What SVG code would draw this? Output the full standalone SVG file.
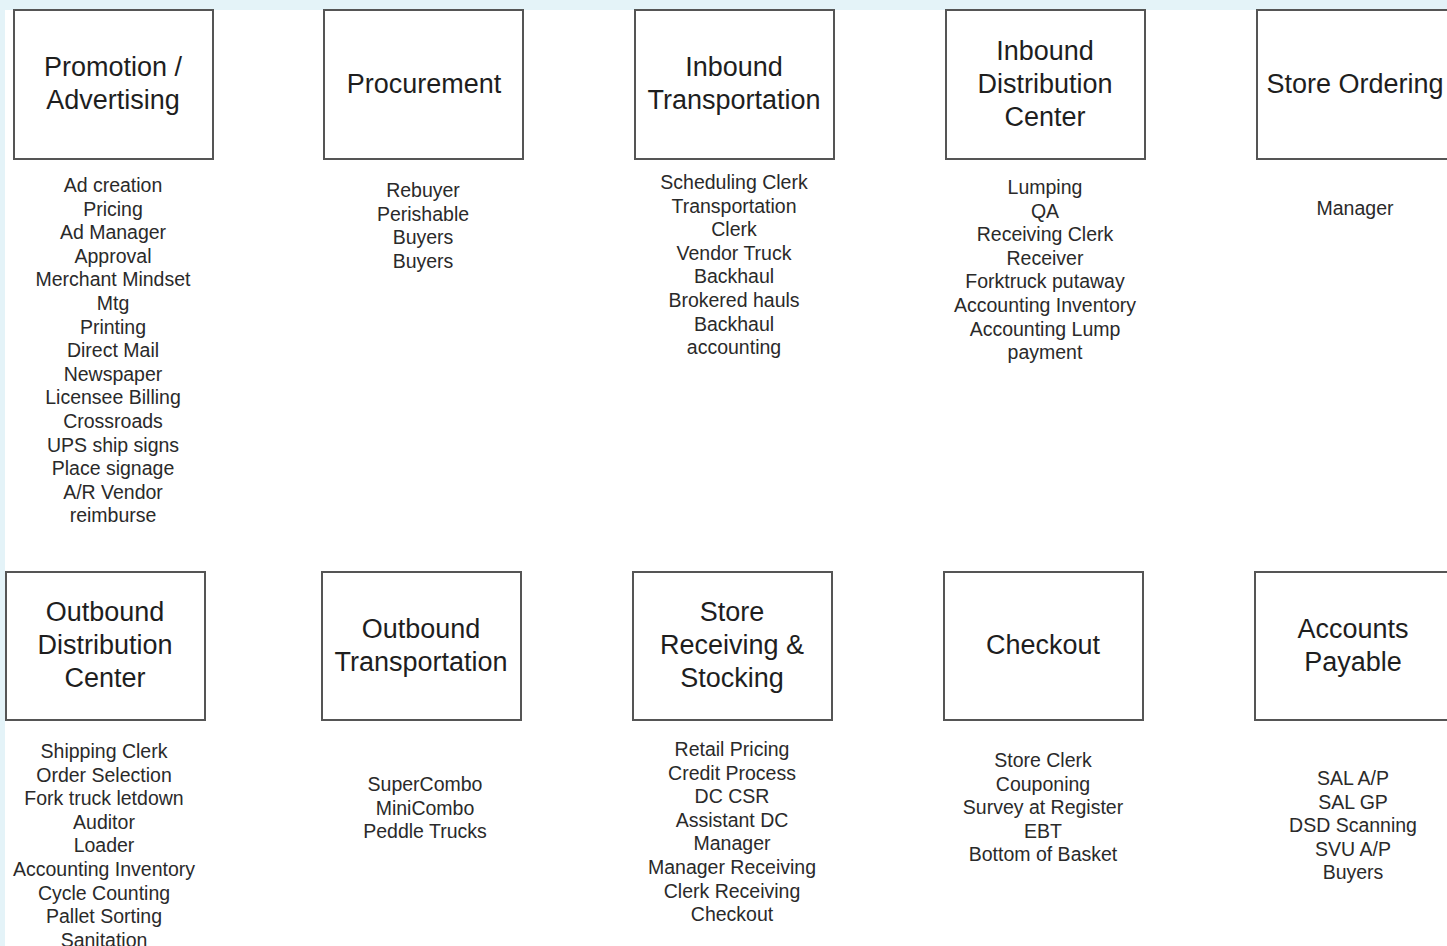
<svg xmlns="http://www.w3.org/2000/svg" width="1447" height="946" viewBox="0 0 1447 946">
<style>
.box{fill:#fff;stroke:#555;stroke-width:2}
.t{font-family:"Liberation Sans",Arial,sans-serif;font-size:27px;fill:#1e1e1e;text-anchor:middle}
.l{font-family:"Liberation Sans",Arial,sans-serif;font-size:19.5px;fill:#2a2a2a;text-anchor:middle}
</style>
<rect x="0" y="0" width="1447" height="946" fill="#e4f3f8"/>
<rect x="5" y="10" width="1442" height="936" fill="#fff"/>
<g id="connectors"/>
<g id="promotion">
<rect class="box" x="14" y="10" width="199" height="149"/>
<text class="t" x="113"><tspan x="113" y="76">Promotion /</tspan><tspan x="113" y="109">Advertising</tspan></text>
<text class="l"><tspan x="113" y="192">Ad creation</tspan><tspan x="113" dy="23.6">Pricing</tspan><tspan x="113" dy="23.6">Ad Manager</tspan><tspan x="113" dy="23.6">Approval</tspan><tspan x="113" dy="23.6">Merchant Mindset</tspan><tspan x="113" dy="23.6">Mtg</tspan><tspan x="113" dy="23.6">Printing</tspan><tspan x="113" dy="23.6">Direct Mail</tspan><tspan x="113" dy="23.6">Newspaper</tspan><tspan x="113" dy="23.6">Licensee Billing</tspan><tspan x="113" dy="23.6">Crossroads</tspan><tspan x="113" dy="23.6">UPS ship signs</tspan><tspan x="113" dy="23.6">Place signage</tspan><tspan x="113" dy="23.6">A/R Vendor</tspan><tspan x="113" dy="23.6">reimburse</tspan></text>
</g>
<g id="procurement">
<rect class="box" x="324" y="10" width="199" height="149"/>
<text class="t" x="424" y="93">Procurement</text>
<text class="l"><tspan x="423" y="197">Rebuyer</tspan><tspan x="423" dy="23.6">Perishable</tspan><tspan x="423" dy="23.6">Buyers</tspan><tspan x="423" dy="23.6">Buyers</tspan></text>
</g>
<g id="inbound-transportation">
<rect class="box" x="635" y="10" width="199" height="149"/>
<text class="t"><tspan x="734" y="76">Inbound</tspan><tspan x="734" y="109">Transportation</tspan></text>
<text class="l"><tspan x="734" y="189">Scheduling Clerk</tspan><tspan x="734" dy="23.6">Transportation</tspan><tspan x="734" dy="23.6">Clerk</tspan><tspan x="734" dy="23.6">Vendor Truck</tspan><tspan x="734" dy="23.6">Backhaul</tspan><tspan x="734" dy="23.6">Brokered hauls</tspan><tspan x="734" dy="23.6">Backhaul</tspan><tspan x="734" dy="23.6">accounting</tspan></text>
</g>
<g id="inbound-dc">
<rect class="box" x="946" y="10" width="199" height="149"/>
<text class="t"><tspan x="1045" y="60">Inbound</tspan><tspan x="1045" y="93">Distribution</tspan><tspan x="1045" y="126">Center</tspan></text>
<text class="l"><tspan x="1045" y="194">Lumping</tspan><tspan x="1045" dy="23.6">QA</tspan><tspan x="1045" dy="23.6">Receiving Clerk</tspan><tspan x="1045" dy="23.6">Receiver</tspan><tspan x="1045" dy="23.6">Forktruck putaway</tspan><tspan x="1045" dy="23.6">Accounting Inventory</tspan><tspan x="1045" dy="23.6">Accounting Lump</tspan><tspan x="1045" dy="23.6">payment</tspan></text>
</g>
<g id="store-ordering">
<rect class="box" x="1257" y="10" width="199" height="149"/>
<text class="t" x="1355" y="93">Store Ordering</text>
<text class="l" x="1355" y="215">Manager</text>
</g>
<g id="outbound-dc">
<rect class="box" x="6" y="572" width="199" height="148"/>
<text class="t"><tspan x="105" y="621">Outbound</tspan><tspan x="105" y="654">Distribution</tspan><tspan x="105" y="687">Center</tspan></text>
<text class="l"><tspan x="104" y="758">Shipping Clerk</tspan><tspan x="104" dy="23.6">Order Selection</tspan><tspan x="104" dy="23.6">Fork truck letdown</tspan><tspan x="104" dy="23.6">Auditor</tspan><tspan x="104" dy="23.6">Loader</tspan><tspan x="104" dy="23.6">Accounting Inventory</tspan><tspan x="104" dy="23.6">Cycle Counting</tspan><tspan x="104" dy="23.6">Pallet Sorting</tspan><tspan x="104" dy="23.6">Sanitation</tspan></text>
</g>
<g id="outbound-transportation">
<rect class="box" x="322" y="572" width="199" height="148"/>
<text class="t"><tspan x="421" y="638">Outbound</tspan><tspan x="421" y="671">Transportation</tspan></text>
<text class="l"><tspan x="425" y="791">SuperCombo</tspan><tspan x="425" dy="23.6">MiniCombo</tspan><tspan x="425" dy="23.6">Peddle Trucks</tspan></text>
</g>
<g id="store-receiving">
<rect class="box" x="633" y="572" width="199" height="148"/>
<text class="t"><tspan x="732" y="621">Store</tspan><tspan x="732" y="654">Receiving &amp;</tspan><tspan x="732" y="687">Stocking</tspan></text>
<text class="l"><tspan x="732" y="756">Retail Pricing</tspan><tspan x="732" dy="23.6">Credit Process</tspan><tspan x="732" dy="23.6">DC CSR</tspan><tspan x="732" dy="23.6">Assistant DC</tspan><tspan x="732" dy="23.6">Manager</tspan><tspan x="732" dy="23.6">Manager Receiving</tspan><tspan x="732" dy="23.6">Clerk Receiving</tspan><tspan x="732" dy="23.6">Checkout</tspan></text>
</g>
<g id="checkout">
<rect class="box" x="944" y="572" width="199" height="148"/>
<text class="t" x="1043" y="654">Checkout</text>
<text class="l"><tspan x="1043" y="767">Store Clerk</tspan><tspan x="1043" dy="23.6">Couponing</tspan><tspan x="1043" dy="23.6">Survey at Register</tspan><tspan x="1043" dy="23.6">EBT</tspan><tspan x="1043" dy="23.6">Bottom of Basket</tspan></text>
</g>
<g id="accounts-payable">
<rect class="box" x="1255" y="572" width="199" height="148"/>
<text class="t"><tspan x="1353" y="638">Accounts</tspan><tspan x="1353" y="671">Payable</tspan></text>
<text class="l"><tspan x="1353" y="785">SAL A/P</tspan><tspan x="1353" dy="23.6">SAL GP</tspan><tspan x="1353" dy="23.6">DSD Scanning</tspan><tspan x="1353" dy="23.6">SVU A/P</tspan><tspan x="1353" dy="23.6">Buyers</tspan></text>
</g>
</svg>
